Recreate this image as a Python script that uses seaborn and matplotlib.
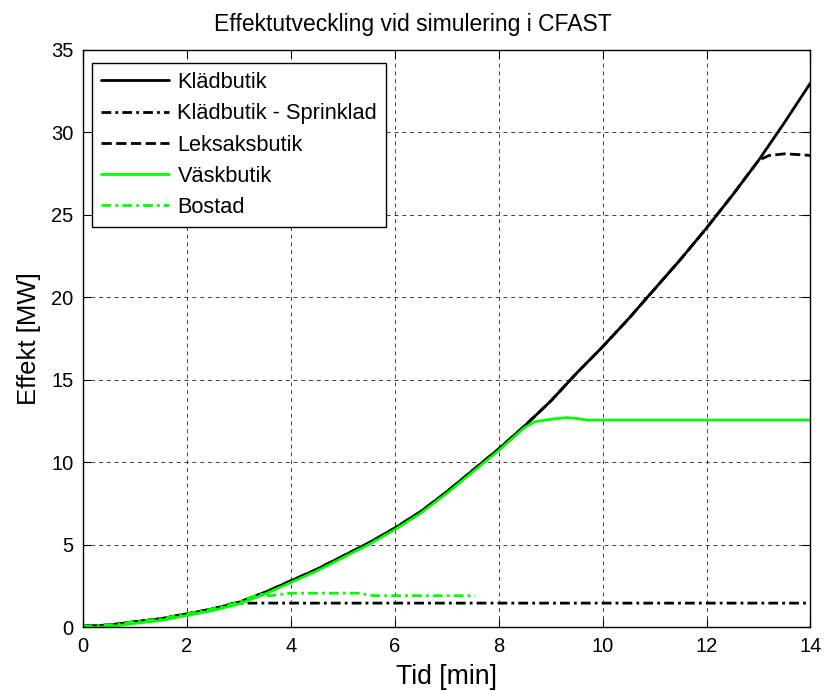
import numpy as np
import pandas as pd
import matplotlib
matplotlib.use("Agg")
import matplotlib.pyplot as plt
import seaborn as sns

# time in minutes and heat release rate in MW
t_klad = [0, 0.5, 1, 1.5, 2, 2.5, 3, 3.5, 4, 4.5, 5, 5.5, 6, 6.5, 7, 7.5,
          8, 8.5, 9, 9.5, 10, 10.5, 11, 11.5, 12, 12.5, 13, 13.5, 14]
q_klad = [0.05, 0.12, 0.32, 0.5, 0.8, 1.1, 1.5, 2.1, 2.8, 3.5, 4.3, 5.1, 6.0, 7.0,
          8.2, 9.5, 10.8, 12.2, 13.7, 15.4, 17.0, 18.7, 20.5, 22.3, 24.2, 26.2,
          28.3, 30.6, 33.0]

t_sprink = [0, 0.5, 1, 1.5, 2, 2.5, 2.9, 14]
q_sprink = [0.05, 0.12, 0.32, 0.5, 0.8, 1.1, 1.45, 1.45]

t_leksak = t_klad[:27] + [13.2, 13.5, 13.8, 14]
q_leksak = q_klad[:27] + [28.6, 28.7, 28.65, 28.6]

t_vask = t_klad[:18] + [8.7, 9.0, 9.3, 9.5, 9.7, 14]
q_vask = [q - 0.1 for q in q_klad[:18]] + [12.45, 12.6, 12.7, 12.65, 12.55, 12.55]

t_bostad = [0, 0.5, 1, 1.5, 2, 2.5, 3, 3.4, 3.6, 4.0, 5.3, 5.6, 7.55]
q_bostad = [0.05, 0.12, 0.32, 0.5, 0.8, 1.1, 1.5, 2.0, 1.9, 2.05, 2.05, 1.9, 1.9]

# matlab-like dash-dot
dashdot = (0, (3.5, 1.5, 1, 1.5))

series = [
    ("Klädbutik", t_klad, q_klad, "black", "-"),
    ("Klädbutik - Sprinklad", t_sprink, q_sprink, "black", dashdot),
    ("Leksaksbutik", t_leksak, q_leksak, "black", "--"),
    ("Väskbutik", t_vask, q_vask, "#00ff00", "-"),
    ("Bostad", t_bostad, q_bostad, "#00ff00", dashdot),
]

sns.set_style("ticks")
plt.rcParams["font.family"] = ["Liberation Sans", "DejaVu Sans"]
plt.rcParams["text.color"] = "black"
plt.rcParams["axes.labelcolor"] = "black"
plt.rcParams["xtick.color"] = "black"
plt.rcParams["ytick.color"] = "black"

fig = plt.figure(figsize=(8.25, 6.94), dpi=100)
ax = fig.add_axes([0.1006, 0.0965, 0.8818, 0.8315])

for name, t, q, col, ls in series:
    df = pd.DataFrame({"Tid": t, "Effekt": q})
    sns.lineplot(data=df, x="Tid", y="Effekt", ax=ax, color=col,
                 linestyle=ls, linewidth=2.0, label=name, sort=False)

ax.set_xlim(0, 14)
ax.set_ylim(0, 35)
ax.set_xticks(np.arange(0, 15, 2))
ax.set_yticks(np.arange(0, 36, 5))
ax.grid(True, color="black", linestyle=(0, (4, 4)), linewidth=0.7, alpha=0.75)
ax.tick_params(direction="in", top=True, right=True, labelsize=14.5,
               length=6, pad=7)
for s in ax.spines.values():
    s.set_linewidth(1.0)
    s.set_color("black")

fig.text(0.5, 0.965, "Effektutveckling vid simulering i CFAST",
         fontsize=16.5, ha="center", va="center")
ax.set_xlabel("Tid [min]", fontsize=19.2, labelpad=6)
ax.set_ylabel("Effekt [MW]", fontsize=18.5, labelpad=7)

leg = ax.legend(loc="upper left", bbox_to_anchor=(0.0124, 0.9775),
                fontsize=15.7, handlelength=3.1, handletextpad=0.4,
                fancybox=False, framealpha=1, edgecolor="black",
                borderaxespad=0, borderpad=0.42, labelspacing=0.47)
leg.get_frame().set_linewidth(1.0)

fig.savefig("out.png", dpi=100)
